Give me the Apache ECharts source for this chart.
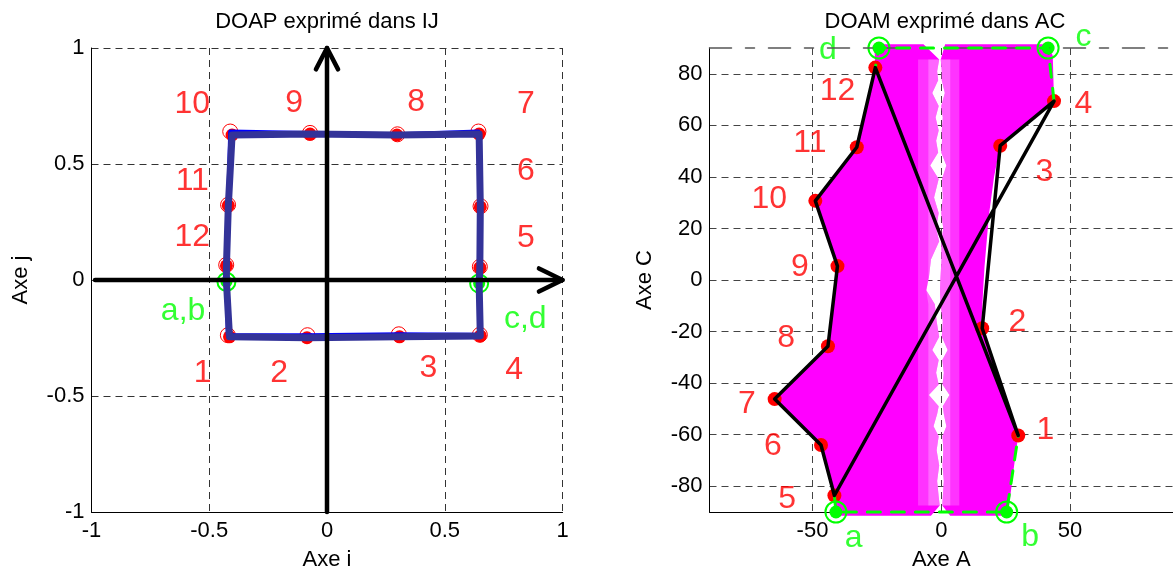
<!DOCTYPE html>
<html><head><meta charset="utf-8">
<script src="https://cdn.jsdelivr.net/npm/echarts@6/dist/echarts.min.js"></script>
<style>html,body{margin:0;padding:0;background:#fff}#c{width:1173px;height:576px}</style>
</head><body><div id="c"></div>
<script>
// ===================== DATA =====================
const pointNames = ['1','2','3','4','5','6','7','8','9','10','11','12'];

// --- Left plot: DOAP exprimé dans IJ ---
const ijTicks = [-1, -0.5, 0, 0.5, 1];
const ijDots = [[-0.414,-0.245],[-0.085,-0.249],[0.308,-0.245],[0.651,-0.241],
  [0.649,0.053],[0.651,0.315],[0.646,0.629],[0.297,0.625],
  [-0.072,0.629],[-0.403,0.625],[-0.419,0.321],[-0.427,0.061]];
const ijRings = [[-0.421,-0.238],[-0.083,-0.238],[0.305,-0.234],[0.649,-0.236],
  [0.649,0.057],[0.652,0.318],[0.643,0.640],[0.299,0.628],
  [-0.072,0.634],[-0.411,0.640],[-0.420,0.324],[-0.428,0.065]];
const ijGreen = [[-0.427,-0.008],[0.646,-0.015]];
const ijGreenNames = ['a,b','c,d'];
const ijGreenLabelPos = [[-0.611,-0.135],[0.842,-0.167]];
const ijNumPos = [[-0.528,-0.402],[-0.203,-0.402],[0.431,-0.380],[0.795,-0.390],
  [0.845,0.181],[0.845,0.467],[0.845,0.757],[0.379,0.765],
  [-0.140,0.764],[-0.572,0.757],[-0.572,0.424],[-0.572,0.184]];
const arrowShaftI = [[-0.985,0],[1,0]];
const arrowHeadI = [[0.9,0.05],[1,0],[0.9,-0.05]];
const arrowShaftJ = [[0,-1],[0,1]];
const arrowHeadJ = [[-0.047,0.908],[0,1],[0.047,0.908]];

// --- Right plot: DOAM exprimé dans AC ---
const acXTicks = [-50, 0, 50];
const acYTicks = [-80, -60, -40, -20, 0, 20, 40, 60, 80];
const acTopLine = [[-90,90],[90,90]];
const acDots = [[29.9,-60.3],[15.9,-18.7],[22.9,52.1],[43.8,69.4],
  [-41.5,-83.6],[-46.7,-64.0],[-64.7,-46.2],[-44.0,-25.7],
  [-40.3,5.4],[-48.9,30.7],[-32.8,51.5],[-25.6,82.4]];
const acGreen = [[-40.9,-90],[25.4,-90],[41.5,90],[-24.2,90]];
const acGreenNames = ['a','b','c','d'];
const acGreenLabelPos = [[-34.0,-100.2],[34.5,-99.6],[55.2,94.1],[-44.0,89.2]];
const acNumPos = [[40.4,-58.3],[29.6,-16.4],[40.1,41.9],[55.2,68.1],
  [-59.8,-84.9],[-65.4,-64.3],[-75.5,-48.2],[-60.2,-22.5],
  [-54.9,5.0],[-66.8,31.3],[-51.0,53.1],[-40.3,73.2]];

// magenta cloud outline (outer sides of the two lobes)
const cloudLeftEdge = [[-6.9,91.5],[-26,91.5],[-25.6,82.4],[-32.8,51.5],[-48.9,30.7],[-40.3,5.4],
  [-44.0,-25.7],[-64.7,-46.2],[-46.7,-64.0],[-41.5,-83.6],[-41.5,-91.5],[-4.0,-91.5]];
const cloudRightEdge = [[1.5,91.5],[41.5,91.5],[43.3,87],[43.8,69.4],[22.9,52.1],[20.5,40],[18.5,25],
  [16.8,5],[16.2,-5],[15.5,-18.7],[22.5,-38],[29.9,-60.3],[28.3,-72],[26.8,-84],[25.4,-91.5],[3.5,-91.5]];
// white channel between lobes: C, left A, right A
const channelC     = [91.5, 85.5, 81, 77.5, 72.5, 67.5, 63, 58, 54, 49.5, 44.4, 39.2, 32, 26, 20, 15, 8, 1, -4, -9.4, -16, -22, -27.2, -31, -36, -40.5, -44.6, -49, -52, -56.7, -60.6, -66, -72, -78, -84, -87.5, -91.5];
const channelLeft  = [-6.9, -0.8, -1.6, -1.2, -3.5, -1.0, -2.2, -1.0, -2.0, -1.2, -4.3, -1.0, -2.8, -1.0, -2.0, -0.8, -4.0, -4.8, -5.8, -2.5, -1.8, -0.8, -3.5, -1.0, -2.0, -1.0, -4.8, -1.0, -1.6, -3.0, -1.0, -1.8, -0.8, -1.6, -1.0, -0.6, -4.0];
const channelRight = [1.5, -0.2, 0.2, 0.2, 1.4, 0.0, 0.6, 0.2, 0.3, 0.0, 2.0, 0.3, 0.6, 0.0, 0.8, 0.0, 0.1, -0.3, -0.5, -0.3, 0.6, 0.2, 2.5, 0.4, 1.0, 0.5, 3.2, 0.6, 1.0, 2.0, 0.5, 0.8, 0.5, 1.0, 0.6, 0.4, 3.5];
const hatchOuter = [-9, 7];
const hatchInner = [-5, 3.5];

// ===================== CHART =====================
const FONT = '"Liberation Sans", Arial, Helvetica, sans-serif';
const chart = echarts.init(document.getElementById('c'), null, {renderer: 'canvas'});

const ijDotPath = [...ijDots.slice(0,4), ijGreen[1], ...ijDots.slice(4), ijGreen[0], ijDots[0]];
const ijRingPath = [...ijRings.slice(0,4), ijGreen[1], ...ijRings.slice(4), ijGreen[0], ijRings[0]];
const acPoly = [...acDots, acDots[0]];
const acGreenBottom = [acDots[4], acGreen[0], acGreen[1], acDots[0]];
const acGreenTop = [acDots[3], acGreen[2], acGreen[3], acDots[11]];

const chanL = channelC.map((c,i) => [channelLeft[i], c]);
const chanR = channelC.map((c,i) => [channelRight[i], c]);
const leftLobe = [...cloudLeftEdge, ...chanL.slice().reverse()];
const rightLobe = [...cloudRightEdge, ...chanR.slice().reverse()];
const hatchPoly = (edge, chan, side) => {
  const inner = chan.filter(p => Math.abs(p[1]) < 91);
  const outer = inner.map(p => [side < 0 ? Math.min(edge, p[0]) : Math.max(edge, p[0]), p[1]]);
  return [...outer, ...inner.slice().reverse()];
};

function lineS(ax, data, color, width, type) {
  return {type:'line', xAxisIndex:ax, yAxisIndex:ax, data, symbol:'none', showSymbol:false,
    clip:false, silent:true, animation:false,
    lineStyle:{color, width, type: type || 'solid', cap:'round', join:'round'}};
}
function dotS(ax, data, size, color, ring, bw) {
  return {type:'scatter', xAxisIndex:ax, yAxisIndex:ax, data, symbol:'circle', symbolSize:size, clip:false,
    silent:true, animation:false,
    itemStyle: ring ? {color:'rgba(0,0,0,0)', borderColor:color, borderWidth:bw, opacity:1} : {color, opacity:1}};
}
function textS(ax, pos, names, color, size) {
  return {type:'scatter', xAxisIndex:ax, yAxisIndex:ax, clip:false, silent:true, animation:false,
    data: pos.map((p,i) => ({value:[p[0], p[1]], name:names[i]})),
    symbolSize:1, itemStyle:{color:'rgba(0,0,0,0)'},
    label:{show:true, position:'inside', formatter: p => p.name, color, fontSize:size, fontFamily:FONT}};
}
function polyS(points, fill) {
  return {type:'custom', xAxisIndex:1, yAxisIndex:1, data:[[0,0]], clip:false, silent:true, animation:false,
    renderItem: (params, api) => ({type:'polygon', shape:{points: points.map(p => api.coord(p))}, style:{fill}})};
}

const axisText = {color:'#000', fontSize:22, fontFamily:FONT};
function xAx(idx, min, max, ticks, name, gridColor) {
  return {type:'value', gridIndex:idx, min, max, name, nameLocation:'middle', nameGap:37,
    nameTextStyle:axisText,
    axisLine:{show:true, onZero:false, lineStyle:{color:'#000', width:1}},
    axisTick:{show:false, customValues:ticks},
    axisLabel:Object.assign({customValues:ticks, margin:8}, axisText),
    splitLine:{show:true, lineStyle:{color:gridColor, width:1, type:[7,5]}}};
}
function yAx(idx, min, max, ticks, name, gap, gridColor) {
  return {type:'value', gridIndex:idx, min, max, name, nameLocation:'middle', nameGap:gap, nameRotate:90,
    nameTextStyle:axisText,
    axisLine:{show:true, onZero:false, lineStyle:{color:'#000', width:1}},
    axisTick:{show:false, customValues:ticks},
    axisLabel:Object.assign({customValues:ticks, margin:7}, axisText),
    splitLine:{show:true, lineStyle:{color:gridColor, width:1, type:[7,5]}}};
}

const option = {
  animation:false,
  backgroundColor:'#fff',
  graphic:[
    {type:'text', x:327, y:22, style:{text:'DOAP exprimé dans IJ', fill:'#000', font:'22px ' + FONT, align:'center', verticalAlign:'middle'}},
    {type:'text', x:945, y:22, style:{text:'DOAM exprimé dans AC', fill:'#000', font:'22px ' + FONT, align:'center', verticalAlign:'middle'}}
  ],
  grid:[
    {left:91.5, top:48, width:471, height:469, containLabel:false},
    {left:709.5, top:48, width:471, height:469, containLabel:false}
  ],
  xAxis:[ xAx(0, -1, 1, ijTicks, 'Axe i', '#333'), xAx(1, -90, 90, acXTicks, 'Axe A', '#444') ],
  yAxis:[ yAx(0, -1, 1, ijTicks, 'Axe j', 60, '#333'), yAx(1, -90, 90, acYTicks, 'Axe C', 54, '#444') ],
  series:[
    // ---- left ----
    lineS(0, ijRingPath, '#0000ff', 4),
    lineS(0, ijDotPath, '#333399', 7),
    lineS(0, arrowShaftI, '#000', 4.5),
    lineS(0, arrowHeadI, '#000', 4.5),
    lineS(0, arrowShaftJ, '#000', 4.5),
    lineS(0, arrowHeadJ, '#000', 4.5),
    dotS(0, ijRings, 15, '#ff0000', true, 1),
    dotS(0, ijDots, 13, '#ff0000'),
    dotS(0, ijGreen, 18, '#00ff00', true, 2),
    dotS(0, ijGreen, 12, '#00ff00'),
    textS(0, ijNumPos, pointNames, '#ff0000', 32),
    textS(0, ijGreenLabelPos, ijGreenNames, '#00ff00', 32),
    // ---- right ----
    lineS(1, acTopLine, '#555', 1.5, [22,14,9,14]),
    polyS(leftLobe, '#ff00ff'),
    polyS(rightLobe, '#ff00ff'),
    polyS(hatchPoly(hatchOuter[0], chanL, -1), 'rgba(255,255,255,0.2)'),
    polyS(hatchPoly(hatchOuter[1], chanR, 1), 'rgba(255,255,255,0.2)'),
    polyS(hatchPoly(hatchInner[0], chanL, -1), 'rgba(255,255,255,0.25)'),
    polyS(hatchPoly(hatchInner[1], chanR, 1), 'rgba(255,255,255,0.25)'),
    lineS(1, acGreenBottom, '#00ff00', 3, [13,11]),
    lineS(1, acGreenTop, '#00ff00', 3, [13,11]),
    lineS(1, acPoly, '#000', 3.5),
    dotS(1, acDots, 14, '#ff0000'),
    dotS(1, acGreen, 21, '#00ff00', true, 2),
    dotS(1, acGreen, 13, '#00ff00'),
    textS(1, acNumPos, pointNames, '#ff0000', 32),
    textS(1, acGreenLabelPos, acGreenNames, '#00ff00', 32)
  ]
};
chart.setOption(option);
</script></body></html>
